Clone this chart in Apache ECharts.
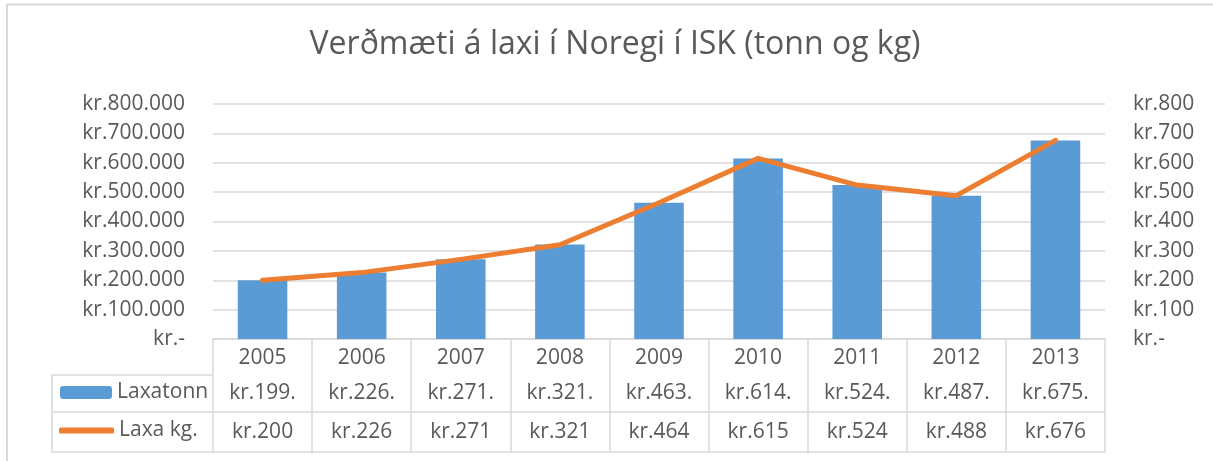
<!DOCTYPE html>
<html>
<head>
<meta charset="utf-8">
<title>Verðmæti á laxi</title>
<script src="https://cdn.jsdelivr.net/npm/echarts@6/dist/echarts.min.js"></script>
<style>
  html, body { margin: 0; padding: 0; background: #fff; }
  #chart { width: 1213px; height: 461px; }
</style>
</head>
<body>
<div id="chart"></div>
<script>
// gögn
var years = ['2005', '2006', '2007', '2008', '2009', '2010', '2011', '2012', '2013'];
var laxatonn = [199600, 226200, 271200, 321300, 463700, 614600, 524200, 487700, 675600];
var laxaKg = [200, 226, 271, 321, 464, 615, 524, 488, 676];
var leftTicks = [0, 800000, 100000];
var rightTicks = [0, 800, 100];

var TXT = '#595959';
var LINE = '#D9D9D9';
var FONT = '"Open Sans", "Noto Sans", sans-serif';

// grid
var G = { left: 213, right: 108, top: 104, bottom: 122 };
var W = 1213, H = 461;
var axisY = H - G.bottom;     // 339
var row1 = axisY + 36;        // 375
var row2 = axisY + 73;        // 412
var row3 = axisY + 113;       // 452
var legendX = 52;

function krThousands(v) {
  if (v === 0) return 'kr.-';
  var s = String(v);
  return 'kr.' + s.replace(/\B(?=(\d{3})+(?!\d))/g, '.');
}

var labelStyle = { color: TXT, fontSize: 21, fontFamily: FONT };

var myChart = echarts.init(document.getElementById('chart'));

myChart.setOption({
  animation: false,
  title: {
    text: 'Verðmæti á laxi í Noregi í ISK (tonn og kg)',
    left: 610,
    top: 24,
    textAlign: 'center',
    textStyle: { color: TXT, fontSize: 32, fontWeight: 'normal', fontFamily: FONT }
  },
  legend: [
    {
      data: ['Laxatonn'],
      left: 60,
      top: 382,
      padding: 0,
      itemWidth: 52,
      itemHeight: 13,
      itemGap: 0,
      textStyle: labelStyle,
      selectedMode: false
    },
    {
      data: [{ name: 'Laxa kg.', icon: 'roundRect' }],
      left: 59,
      top: 420,
      padding: 0,
      itemWidth: 55,
      itemHeight: 6,
      itemGap: 0,
      textStyle: labelStyle,
      selectedMode: false
    }
  ],
  grid: {
    left: G.left, right: G.right, top: G.top, bottom: G.bottom,
    containLabel: false,
    outerBoundsMode: 'none'
  },
  xAxis: [
    {
      type: 'category',
      data: years,
      position: 'bottom',
      axisLine: { lineStyle: { color: LINE, width: 1.5 } },
      axisTick: { show: true, length: row3 - axisY, interval: 0, lineStyle: { color: LINE, width: 1.5 } },
      axisLabel: Object.assign({ margin: 9, interval: 0 }, labelStyle),
      splitLine: { show: false }
    },
    {
      type: 'category',
      data: years,
      position: 'bottom',
      offset: row1 - axisY,
      axisLine: { lineStyle: { color: LINE, width: 1.5 } },
      axisTick: { show: false },
      axisLabel: Object.assign({
        margin: 8, interval: 0,
        formatter: function (v, i) { return 'kr.' + Math.floor(laxatonn[i] / 1000) + '.'; }
      }, labelStyle)
    },
    {
      type: 'category',
      data: years,
      position: 'bottom',
      offset: row2 - axisY,
      axisLine: { lineStyle: { color: LINE, width: 1.5 } },
      axisTick: { show: false },
      axisLabel: Object.assign({
        margin: 10, interval: 0,
        formatter: function (v, i) { return 'kr.' + laxaKg[i]; }
      }, labelStyle)
    },
    {
      type: 'category',
      data: years,
      position: 'bottom',
      offset: row3 - axisY,
      axisLine: { lineStyle: { color: LINE, width: 1.5 } },
      axisTick: { show: false },
      axisLabel: { show: false }
    }
  ],
  yAxis: [
    {
      type: 'value',
      min: leftTicks[0], max: leftTicks[1], interval: leftTicks[2],
      axisLine: { show: false },
      axisTick: { show: false },
      axisLabel: Object.assign({ margin: 28, formatter: krThousands }, labelStyle),
      splitLine: { lineStyle: { color: LINE, width: 1.5 } }
    },
    {
      type: 'value',
      min: rightTicks[0], max: rightTicks[1], interval: rightTicks[2],
      position: 'right',
      axisLine: { show: false },
      axisTick: { show: false },
      axisLabel: Object.assign({ margin: 28, formatter: function (v) { return v === 0 ? 'kr.-' : 'kr.' + v; } }, labelStyle),
      splitLine: { show: false }
    }
  ],
  series: [
    {
      name: 'Laxatonn',
      type: 'bar',
      xAxisIndex: 0,
      yAxisIndex: 0,
      data: laxatonn,
      barWidth: '50%',
      itemStyle: { color: '#5B9BD5' }
    },
    {
      name: 'Laxa kg.',
      type: 'line',
      xAxisIndex: 0,
      yAxisIndex: 1,
      data: laxaKg,
      symbol: 'none',
      smooth: false,
      itemStyle: { color: '#ED7D31' },
      lineStyle: { color: '#ED7D31', width: 5, cap: 'round', join: 'round' }
    }
  ],
  graphic: [
    // ytri rammi
    { type: 'polyline', silent: true, shape: { points: [[7, H + 5], [7, 4.5], [W + 5, 4.5]] },
      style: { stroke: LINE, lineWidth: 2, fill: null } },
    // skýringardálkur töflunnar
    { type: 'polyline', silent: true, shape: { points: [[G.left, row1], [legendX, row1], [legendX, row3], [G.left, row3]] },
      style: { stroke: LINE, lineWidth: 1.5, fill: null } },
    { type: 'line', silent: true, shape: { x1: legendX, y1: row2, x2: G.left, y2: row2 },
      style: { stroke: LINE, lineWidth: 1.5 } }
  ]
});
</script>
</body>
</html>
